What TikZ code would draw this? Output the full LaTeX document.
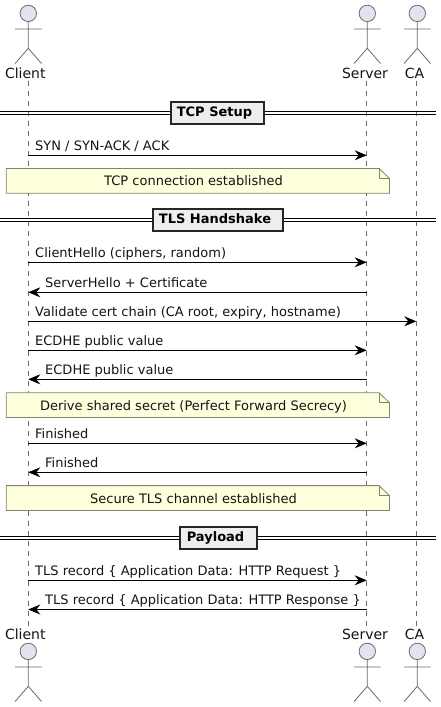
\documentclass[tikz,border=0pt]{standalone}
\usepackage{fontspec}
\setmainfont{DejaVu Sans}
\usetikzlibrary{arrows.meta}
\definecolor{actfill}{HTML}{E2E2F0}
\definecolor{notefill}{HTML}{FEFFDD}
\definecolor{sepfill}{HTML}{EEEEEE}
\definecolor{notebd}{HTML}{84846E}
\newcommand{\actor}[2]{%
  \fill[actfill] (#1,#2+13.4) circle (8.2);
  \draw[actorline] (#1,#2+13.4) circle (8.2);
  \draw[actorline] (#1,#2+21.6) -- (#1,#2+48.3) (#1-13.2,#2+29) -- (#1+13.2,#2+29)
     (#1-13.2,#2+63.5) -- (#1,#2+48.3) -- (#1+13.2,#2+63.5);
}
\newcommand{\divider}[4]{%
  \draw[black,line width=.95pt] (0,#1-1.6) -- (436,#1-1.6) (0,#1+1.6) -- (436,#1+1.6);
  \node[sepbox,minimum width=#3] (#4) at (#2,#1) {\kern-6pt\textbf{#4}};
}
\newcommand{\notebox}[4]{%
  \path[draw=notebd,fill=notefill,line width=.8pt] (6.3,#1) -- (379,#1) -- (389.5,#1+10) -- (389.5,#1+24.8) -- (6.3,#1+24.8) -- cycle;
  \draw[notebd,line width=.8pt] (379,#1) -- (379,#1+10) -- (389.5,#1+10);
  \node[txt,anchor=base] (#3) at (#4,#1+17.4) {#2};
}
\tikzset{
  x=1pt,y=-1pt,
  actorline/.style={draw=black!58,line width=.8pt},
  life/.style={draw=black!58,line width=.7pt,dash pattern=on 5pt off 5pt},
  msg/.style={draw=black,line width=.9pt},
  head/.style={-{Stealth[length=12pt,width=10pt,inset=4pt]}},
  txt/.style={font=\fontsize{13}{15}\selectfont,inner sep=0pt,text=black!92},
  actlabel/.style={font=\fontsize{14}{16}\selectfont,inner sep=0pt,text=black!92,anchor=base},
  sepbox/.style={draw=black!85,fill=sepfill,line width=1.8pt,inner sep=0pt,outer sep=0pt,minimum height=22pt,text height=10pt,text depth=3pt,font=\fontsize{13}{15}\selectfont},
}
\begin{document}
\begin{tikzpicture}
\useasboundingbox (0,0) rectangle (441,707);
\fill[white] (0,0) rectangle (441,707);
\coordinate (ct) at (28.3,81); \coordinate (cb) at (28.3,626);
\coordinate (st) at (366.7,81); \coordinate (sb) at (366.7,626);
\coordinate (at) at (416.3,81); \coordinate (ab) at (416.3,626);
\draw[life] (ct) -- (cb); \draw[life] (st) -- (sb); \draw[life] (at) -- (ab);
\actor{28.3}{0}\actor{367.3}{0}\actor{417.3}{0}
\actor{28.3}{638}\actor{367.3}{638}\actor{417.3}{638}
\node[actlabel] (n1) at (25.3,78) {Client};
\node[actlabel] (n2) at (365,78) {Server};
\node[actlabel] (n3) at (414.5,78) {CA};
\node[actlabel] (n4) at (25.3,639) {Client};
\node[actlabel] (n5) at (365,639) {Server};
\node[actlabel] (n6) at (414.5,639) {CA};
\divider{112.7}{217.5}{93pt}{TCP Setup}
\divider{220}{218}{130pt}{TLS Handshake}
\divider{538.2}{218.5}{77pt}{Payload}
\newcommand{\ltr}[4]{%
  \coordinate (a#1) at (28.3,#2); \coordinate (b#1) at (#4,#2);
  \draw[msg,head] (a#1) -- (b#1);
  \node[txt,anchor=base west] (t#1) at (35,#2-5) {#3};
}
\newcommand{\rtl}[3]{%
  \coordinate (a#1) at (366.7,#2); \coordinate (b#1) at (28.3,#2);
  \draw[msg,head] (a#1) -- (b#1);
  \node[txt,anchor=base west] (t#1) at (45,#2-5) {#3};
}
\ltr{1}{155.3}{SYN / SYN-ACK / ACK}{366.7}
\notebox{168.4}{TCP connection established}{N1}{193.5}
\ltr{2}{262.3}{ClientHello (ciphers, random)}{366.7}
\rtl{3}{292.3}{ServerHello + Certificate}
\ltr{4}{321.3}{Validate cert chain (CA root, expiry, hostname)}{416.3}
\ltr{5}{350.3}{ECDHE public value}{366.7}
\rtl{6}{379.3}{ECDHE public value}
\notebox{392.7}{Derive shared secret (Perfect Forward Secrecy)}{N2}{193.5}
\ltr{7}{443.3}{Finished}{366.7}
\rtl{8}{472.3}{Finished}
\notebox{485.6}{Secure TLS channel established}{N3}{193.5}
\ltr{9}{580.3}{TLS record \{ Application Data: HTTP Request \}}{366.7}
\rtl{10}{609.5}{TLS record \{ Application Data: HTTP Response \}}
\end{tikzpicture}
\end{document}
